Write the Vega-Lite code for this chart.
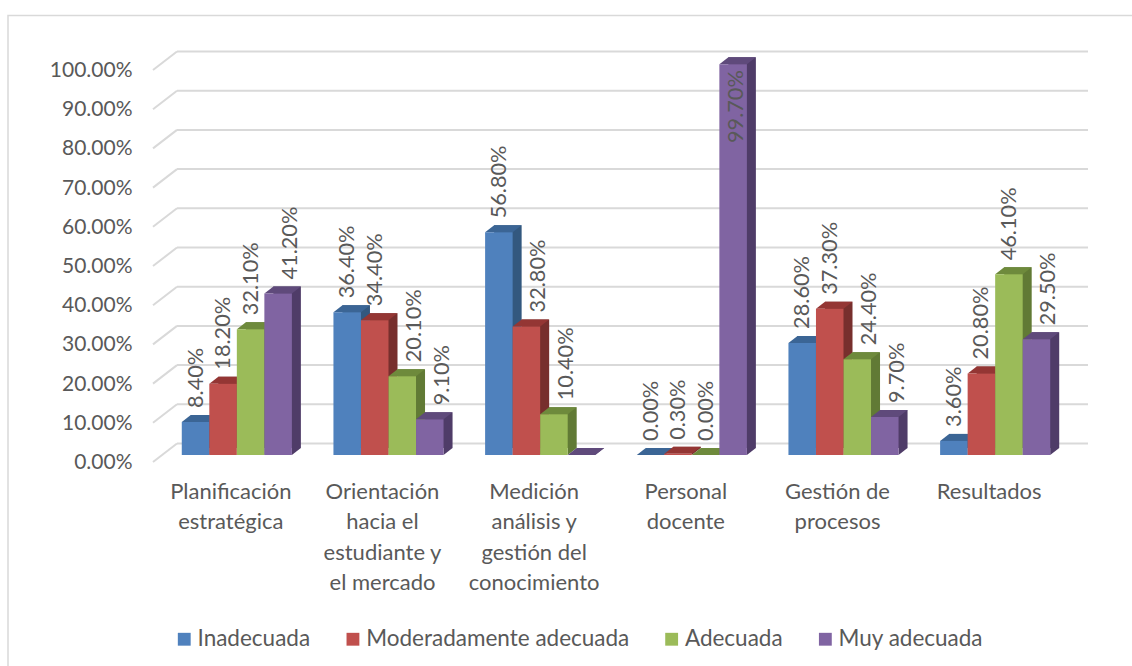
{
"$schema":"https://vega.github.io/schema/vega-lite/v6.json",
"width":910,"height":392,
"autosize":{"type":"none"},
"padding":{"left":161,"top":70,"right":61,"bottom":204},
"background":"white",
"config":{"view":{"stroke":null},"font":"Lato"},
"datasets":{
"ticks":[{"nivel":0},{"nivel":0.1},{"nivel":0.2},{"nivel":0.3},{"nivel":0.4},{"nivel":0.5},{"nivel":0.6},{"nivel":0.7},{"nivel":0.8},{"nivel":0.9},{"nivel":1}],
"barras":[
{"categoria":"Planificación estratégica","serie":"Inadecuada","valor":0.084},
{"categoria":"Planificación estratégica","serie":"Moderadamente adecuada","valor":0.182},
{"categoria":"Planificación estratégica","serie":"Adecuada","valor":0.321},
{"categoria":"Planificación estratégica","serie":"Muy adecuada","valor":0.412},
{"categoria":"Orientación hacia el estudiante y el mercado","serie":"Inadecuada","valor":0.364},
{"categoria":"Orientación hacia el estudiante y el mercado","serie":"Moderadamente adecuada","valor":0.344},
{"categoria":"Orientación hacia el estudiante y el mercado","serie":"Adecuada","valor":0.201},
{"categoria":"Orientación hacia el estudiante y el mercado","serie":"Muy adecuada","valor":0.091},
{"categoria":"Medición análisis y gestión del conocimiento","serie":"Inadecuada","valor":0.568},
{"categoria":"Medición análisis y gestión del conocimiento","serie":"Moderadamente adecuada","valor":0.328},
{"categoria":"Medición análisis y gestión del conocimiento","serie":"Adecuada","valor":0.104},
{"categoria":"Medición análisis y gestión del conocimiento","serie":"Muy adecuada","valor":0},
{"categoria":"Personal docente","serie":"Inadecuada","valor":0},
{"categoria":"Personal docente","serie":"Moderadamente adecuada","valor":0.003},
{"categoria":"Personal docente","serie":"Adecuada","valor":0},
{"categoria":"Personal docente","serie":"Muy adecuada","valor":0.997},
{"categoria":"Gestión de procesos","serie":"Inadecuada","valor":0.286},
{"categoria":"Gestión de procesos","serie":"Moderadamente adecuada","valor":0.373},
{"categoria":"Gestión de procesos","serie":"Adecuada","valor":0.244},
{"categoria":"Gestión de procesos","serie":"Muy adecuada","valor":0.097},
{"categoria":"Resultados","serie":"Inadecuada","valor":0.036},
{"categoria":"Resultados","serie":"Moderadamente adecuada","valor":0.208},
{"categoria":"Resultados","serie":"Adecuada","valor":0.461},
{"categoria":"Resultados","serie":"Muy adecuada","valor":0.295}
]},
"resolve":{"scale":{"x":"independent","color":"independent"},"axis":{"y":"independent"}},
"layer":[
{"data":{"values":[{"marco":1}]},
 "mark":{"type":"rect","fill":null,"stroke":"#d9d9d9","strokeWidth":1.5},
 "encoding":{
  "x":{"datum":0,"type":"quantitative","axis":null,"scale":{"domain":[0,1],"range":[-153,1000]}},
  "x2":{"datum":1},
  "y":{"datum":1.139,"type":"quantitative","axis":null,"scale":{"domain":[0,1]}},
  "y2":{"datum":-0.6}
 }},
{"data":{"name":"ticks"},
 "mark":{"type":"rule","color":"#d9d9d9","strokeWidth":2,"yOffset":-18.5},
 "encoding":{
  "x":{"datum":0,"type":"quantitative","axis":null,"scale":{"domain":[0,1],"range":[16,927]}},
  "x2":{"datum":1},
  "y":{"field":"nivel","type":"quantitative","scale":{"domain":[0,1]},
   "axis":{"title":null,"grid":false,"domain":false,"ticks":false,"values":[0,0.1,0.2,0.3,0.4,0.5,0.6,0.7,0.8,0.9,1],"format":".2%","labelFontSize":21,"labelColor":"#595959","labelPadding":29,"labelOffset":0.5,"labelFont":"Lato"}}
 }},
{"data":{"name":"ticks"},
 "mark":{"type":"rule","color":"#d9d9d9","strokeWidth":2,"y2Offset":-18.5},
 "encoding":{
  "x":{"datum":0,"type":"quantitative","axis":null,"scale":{"domain":[0,1],"range":[-8,16]}},
  "x2":{"datum":1},
  "y":{"field":"nivel","type":"quantitative","axis":null,"scale":{"domain":[0,1]}},
  "y2":{"field":"nivel"}
 }},
{"data":{"name":"barras"},
 "mark":{"type":"bar","yOffset":-14,"y2Offset":-14},
 "encoding":{
  "x":{"field":"categoria","type":"nominal","sort":null,"axis":null,"scale":{"paddingInner":0.274,"paddingOuter":0.137,"range":[9,919]}},
  "xOffset":{"field":"serie","sort":["Inadecuada","Moderadamente adecuada","Adecuada","Muy adecuada"],"scale":{"paddingInner":0,"paddingOuter":0}},
  "y":{"field":"valor","type":"quantitative","axis":null,"scale":{"domain":[0,1]}},
  "color":{"field":"serie","legend":null,"scale":{"domain":["Inadecuada","Moderadamente adecuada","Adecuada","Muy adecuada"],"range":["#33587f","#772f2d","#617a35","#4f3c68"]}}
 }},
{"data":{"name":"barras"},
 "mark":{"type":"point","filled":true,"opacity":1,"strokeWidth":0,"size":4,"yOffset":-7,"shape":"M13.75,0L22.75,-7L13.75,-7Z"},
 "encoding":{
  "x":{"field":"categoria","type":"nominal","sort":null,"axis":null,"scale":{"paddingInner":0.274,"paddingOuter":0.137}},
  "xOffset":{"field":"serie","sort":["Inadecuada","Moderadamente adecuada","Adecuada","Muy adecuada"],"scale":{"paddingInner":0,"paddingOuter":0}},
  "y":{"datum":0,"type":"quantitative","axis":null,"scale":{"domain":[0,1]}},
  "color":{"field":"serie","legend":null,"scale":{"domain":["Inadecuada","Moderadamente adecuada","Adecuada","Muy adecuada"],"range":["#33587f","#772f2d","#617a35","#4f3c68"]}}
 }},
{"data":{"name":"barras"},
 "mark":{"type":"point","filled":true,"opacity":1,"strokeWidth":0,"size":4,"yOffset":-7,"shape":"M-13.75,0L13.75,0L22.75,-7L-4.75,-7Z"},
 "encoding":{
  "x":{"field":"categoria","type":"nominal","sort":null,"axis":null,"scale":{"paddingInner":0.274,"paddingOuter":0.137}},
  "xOffset":{"field":"serie","sort":["Inadecuada","Moderadamente adecuada","Adecuada","Muy adecuada"],"scale":{"paddingInner":0,"paddingOuter":0}},
  "y":{"field":"valor","type":"quantitative","axis":null,"scale":{"domain":[0,1]}},
  "color":{"field":"serie","legend":null,"scale":{"domain":["Inadecuada","Moderadamente adecuada","Adecuada","Muy adecuada"],"range":["#3b6595","#943634","#6e8a3c","#5f4a7b"]}}
 }},
{"data":{"name":"barras"},
 "mark":{"type":"bar","yOffset":-7,"y2Offset":-7},
 "encoding":{
  "x":{"field":"categoria","type":"nominal","sort":null,"scale":{"paddingInner":0.274,"paddingOuter":0.137},
   "axis":{"title":null,"domain":false,"ticks":false,"labelAngle":0,"labelFontSize":22,"labelColor":"#595959","labelPadding":19,"labelOffset":-6,"labelLineHeight":30.5,"labelBaseline":"top","labelLimit":300,"labelFont":"Lato",
   "labelExpr":"datum.value=='Planificación estratégica'?['Planificación','estratégica']:datum.value=='Orientación hacia el estudiante y el mercado'?['Orientación','hacia el','estudiante y','el mercado']:datum.value=='Medición análisis y gestión del conocimiento'?['Medición','análisis y','gestión del','conocimiento']:datum.value=='Personal docente'?['Personal','docente']:datum.value=='Gestión de procesos'?['Gestión de','procesos']:datum.value"}},
  "xOffset":{"field":"serie","sort":["Inadecuada","Moderadamente adecuada","Adecuada","Muy adecuada"],"scale":{"paddingInner":0,"paddingOuter":0}},
  "y":{"field":"valor","type":"quantitative","axis":null,"scale":{"domain":[0,1]}},
  "color":{"field":"serie","scale":{"domain":["Inadecuada","Moderadamente adecuada","Adecuada","Muy adecuada"],"range":["#4f81bd","#c0504d","#9bbb59","#8064a2"]},
   "legend":{"title":null,"orient":"none","legendX":12,"legendY":558,"direction":"horizontal","columns":4,"symbolType":"square","symbolSize":165,"symbolStrokeWidth":0,"labelFontSize":22.5,"labelColor":"#595959","labelFont":"Lato","columnPadding":30.7,"gridAlign":"none","labelOffset":2,"labelLimit":400}}
 }},
{"data":{"name":"barras"},
 "transform":[{"filter":"(datum.valor>0 || datum.categoria=='Personal docente') && datum.valor<0.99 && !(datum.serie=='Muy adecuada' || (datum.serie=='Adecuada' && (datum.categoria=='Orientación hacia el estudiante y el mercado' || datum.categoria=='Medición análisis y gestión del conocimiento' || datum.categoria=='Gestión de procesos')) || (datum.serie=='Moderadamente adecuada' && datum.categoria=='Medición análisis y gestión del conocimiento'))"}],
 "mark":{"type":"text","angle":270,"align":"left","baseline":"middle","fontSize":21.7,"color":"#595959","yOffset":-21,"font":"Lato"},
 "encoding":{
  "x":{"field":"categoria","type":"nominal","sort":null,"axis":null,"scale":{"domain":["Planificación estratégica","Orientación hacia el estudiante y el mercado","Medición análisis y gestión del conocimiento","Personal docente","Gestión de procesos","Resultados"],"paddingInner":0.274,"paddingOuter":0.137}},
  "xOffset":{"field":"serie","scale":{"domain":["Inadecuada","Moderadamente adecuada","Adecuada","Muy adecuada"],"paddingInner":0,"paddingOuter":0}},
  "y":{"field":"valor","type":"quantitative","axis":null,"scale":{"domain":[0,1]}},
  "text":{"field":"valor","format":".2%"}
 }},
{"data":{"name":"barras"},
 "transform":[{"filter":"datum.valor>0 && datum.valor<0.99 && (datum.serie=='Muy adecuada' || (datum.serie=='Adecuada' && (datum.categoria=='Orientación hacia el estudiante y el mercado' || datum.categoria=='Medición análisis y gestión del conocimiento' || datum.categoria=='Gestión de procesos')) || (datum.serie=='Moderadamente adecuada' && datum.categoria=='Medición análisis y gestión del conocimiento'))"}],
 "mark":{"type":"text","angle":270,"align":"left","baseline":"middle","fontSize":21.7,"color":"#595959","yOffset":-21,"font":"Lato"},
 "encoding":{
  "x":{"field":"categoria","type":"nominal","sort":null,"axis":null,"scale":{"domain":["Planificación estratégica","Orientación hacia el estudiante y el mercado","Medición análisis y gestión del conocimiento","Personal docente","Gestión de procesos","Resultados"],"paddingInner":0.274,"paddingOuter":0.137,"range":[12,922]}},
  "xOffset":{"field":"serie","scale":{"domain":["Inadecuada","Moderadamente adecuada","Adecuada","Muy adecuada"],"paddingInner":0,"paddingOuter":0}},
  "y":{"field":"valor","type":"quantitative","axis":null,"scale":{"domain":[0,1]}},
  "text":{"field":"valor","format":".2%"}
 }},
{"data":{"name":"barras"},
 "transform":[{"filter":"datum.valor>=0.99"}],
 "mark":{"type":"text","angle":270,"align":"right","baseline":"middle","fontSize":21.7,"color":"#595959","yOffset":-1,"font":"Lato"},
 "encoding":{
  "x":{"field":"categoria","type":"nominal","sort":null,"axis":null,"scale":{"domain":["Planificación estratégica","Orientación hacia el estudiante y el mercado","Medición análisis y gestión del conocimiento","Personal docente","Gestión de procesos","Resultados"],"paddingInner":0.274,"paddingOuter":0.137,"range":[3,913]}},
  "xOffset":{"field":"serie","scale":{"domain":["Inadecuada","Moderadamente adecuada","Adecuada","Muy adecuada"],"paddingInner":0,"paddingOuter":0}},
  "y":{"field":"valor","type":"quantitative","axis":null,"scale":{"domain":[0,1]}},
  "text":{"field":"valor","format":".2%"}
 }}
]
}
